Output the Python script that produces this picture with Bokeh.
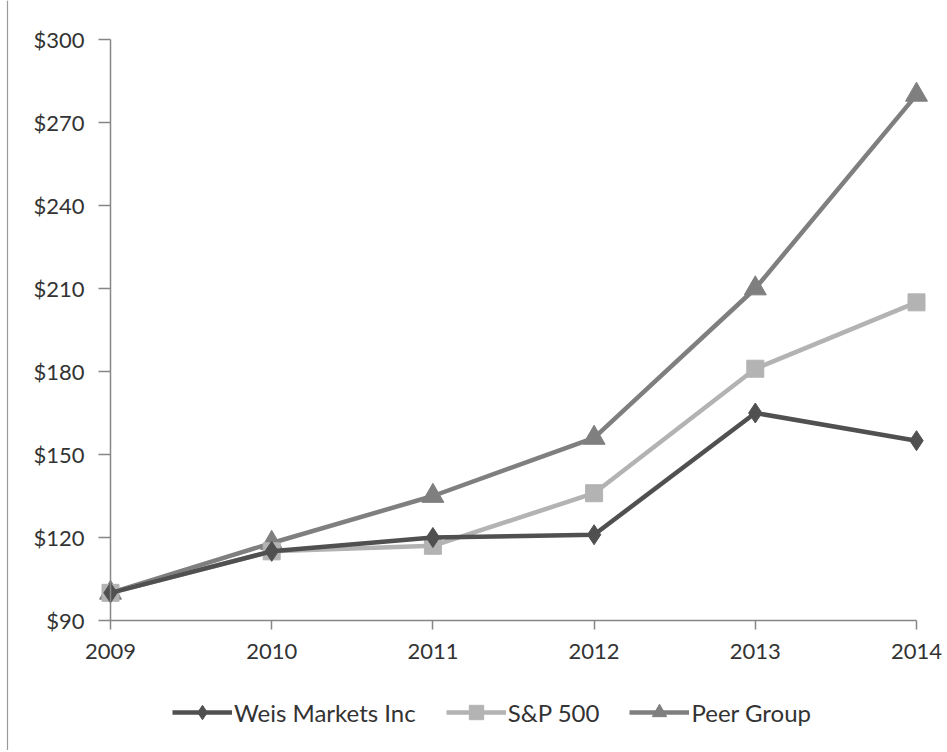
from bokeh.plotting import figure
from bokeh.models import FixedTicker, PrintfTickFormatter, Legend, LegendItem, Range1d, LinearAxis, Span
from bokeh.embed import file_html
from bokeh.resources import INLINE

years = [2009, 2010, 2011, 2012, 2013, 2014]
weis = [100, 115, 120, 121, 165, 155]
sp500 = [100, 115, 117, 136, 181, 205]
peer = [100, 118, 135, 156, 210, 280]
y_ticks = [90, 120, 150, 180, 210, 240, 270, 300]
series_names = ["Weis Markets Inc", "S&P 500", "Peer Group"]

FONT = "Lato"
W, H = 945, 750
# pixel positions of the chart's axes (layout only)
PX_TOP, PX_BASE = 39, 620      # rows of $300 and $90
PX_LEFT, PX_RIGHT = 110, 916   # columns of 2009 and 2014
PX_FRAME_LINE = 7              # thin page border at the left
X_MIN, X_MAX = years[0], years[-1]
Y_MIN, Y_MAX = y_ticks[0], y_ticks[-1]
ppy = (PX_BASE - PX_TOP) / (Y_MAX - Y_MIN)
ppx = (PX_RIGHT - PX_LEFT) / (X_MAX - X_MIN)

p = figure(width=W, height=H, output_backend="svg", toolbar_location=None,
           x_range=Range1d(X_MIN - PX_LEFT / ppx, X_MAX + (W - PX_RIGHT) / ppx),
           y_range=Range1d(Y_MAX - (H - PX_TOP) / ppy, Y_MAX + PX_TOP / ppy),
           x_axis_location=None, y_axis_location=None,
           min_border=0)
p.outline_line_color = None
p.xgrid.visible = False
p.ygrid.visible = False

p.add_layout(Span(location=X_MIN - (PX_LEFT - PX_FRAME_LINE) / ppx, dimension="height",
                  line_color="#9a9a9a", line_width=1.2))

c_weis = "#505050"
c_sp = "#b3b3b3"
c_peer = "#7f7f7f"

r_peer_l = p.line(years, peer, line_color=c_peer, line_width=4.5)
r_peer_m = p.scatter(years, peer, marker="triangle", size=22, fill_color=c_peer, line_color=c_peer)
r_sp_l = p.line(years, sp500, line_color=c_sp, line_width=4.5)
r_sp_m = p.scatter(years, sp500, marker="square", size=17, fill_color=c_sp, line_color=c_sp)
r_w_l = p.line(years, weis, line_color=c_weis, line_width=4.5)
r_w_m = p.scatter(years, weis, marker="diamond", size=20, fill_color=c_weis, line_color=c_weis)

xaxis = LinearAxis(fixed_location=Y_MIN, ticker=FixedTicker(ticks=years), bounds=(X_MIN, X_MAX))
yaxis = LinearAxis(fixed_location=X_MIN, ticker=FixedTicker(ticks=y_ticks), bounds=(Y_MIN, Y_MAX),
                   formatter=PrintfTickFormatter(format="$%d"))
p.add_layout(xaxis, "below")
p.add_layout(yaxis, "left")

for ax in (xaxis, yaxis):
    ax.axis_line_color = "#868686"
    ax.major_tick_line_color = "#868686"
    ax.minor_tick_line_color = None
    ax.major_tick_in = 0
    ax.major_label_text_font = FONT
    ax.major_label_text_font_size = "22px"
    ax.major_label_text_color = "#333333"
    ax.axis_line_width = 1.5
    ax.major_tick_line_width = 1.5

xaxis.major_tick_out = 9
xaxis.major_label_standoff = 14
yaxis.major_tick_out = 12
yaxis.major_label_standoff = 14

legend = Legend(items=[
    LegendItem(label=series_names[0], renderers=[r_w_l, r_w_m]),
    LegendItem(label=series_names[1], renderers=[r_sp_l, r_sp_m]),
    LegendItem(label=series_names[2], renderers=[r_peer_l, r_peer_m]),
], orientation="horizontal", location=(172, 20))
legend.label_text_font = FONT
legend.label_text_font_size = "24px"
legend.label_text_color = "#333333"
legend.glyph_width = 60
legend.glyph_height = 36
legend.label_standoff = 2
legend.spacing = 30
legend.border_line_color = None
legend.background_fill_alpha = 0
legend.margin = 0
legend.padding = 0
p.add_layout(legend, "center")

open("out.html", "w").write(file_html(p, INLINE))
